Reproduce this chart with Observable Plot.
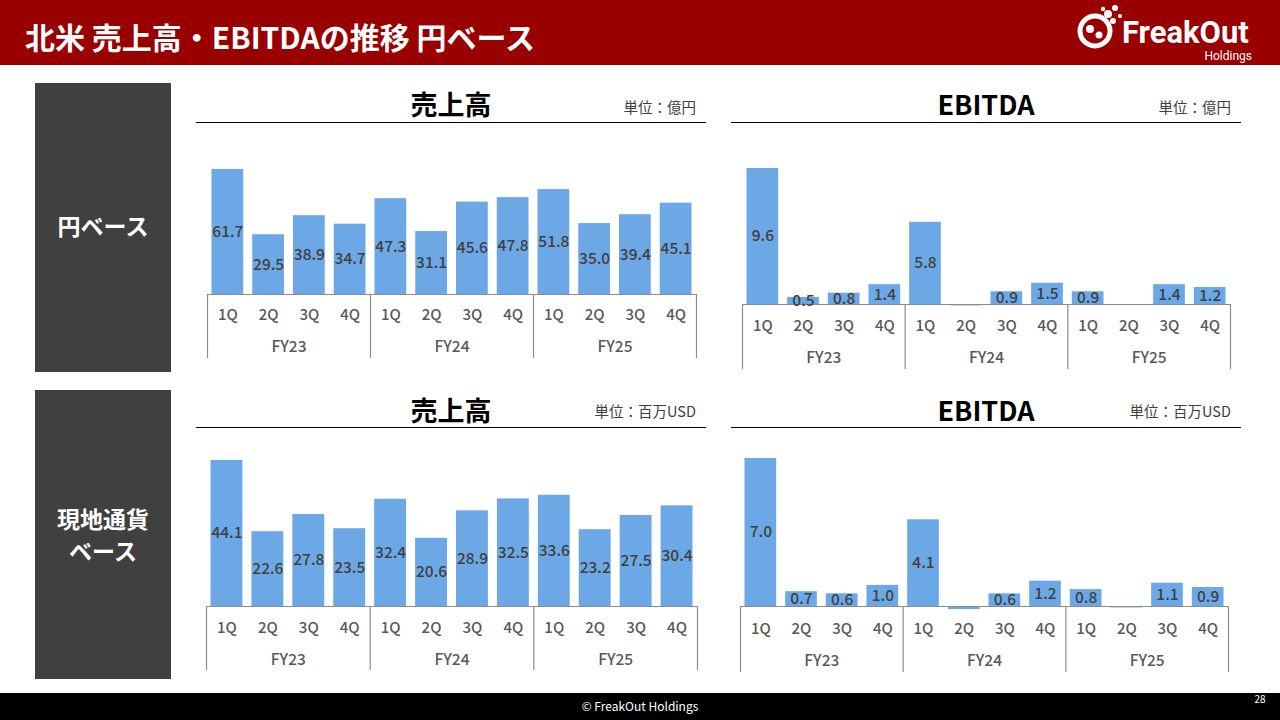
<!DOCTYPE html>
<html>
<head>
<meta charset="utf-8">
<script src="https://cdn.jsdelivr.net/npm/d3@7"></script>
<script src="https://cdn.jsdelivr.net/npm/@observablehq/plot@0.6"></script>
<style>
  html, body { margin: 0; padding: 0; background: #fff; }
  body { width: 1280px; height: 720px; position: relative; overflow: hidden;
         font-family: "Noto Sans CJK JP", "Noto Sans", sans-serif; }
  .abs { position: absolute; }
  #header { left: 0; top: 0; width: 1280px; height: 65px; background: #990000; }
  #title { left: 25px; top: 15px; color: #fff; font-size: 30px; font-weight: 700; line-height: 42px; white-space: nowrap; }
  .side { background: #404040; }
  .sidetext { color: #fff; font-weight: 700; font-size: 23px; text-align: center; line-height: 32px; white-space: nowrap; }
  .ctitle { font-size: 27px; font-weight: 700; color: #000; text-align: center; line-height: 32px; }
  .unit { font-size: 14.5px; color: #404040; text-align: right; line-height: 18px; white-space: nowrap; }
  .rule { height: 0; border-top: 1.3px solid #000; }
  #footer { left: 0; top: 693px; width: 1280px; height: 27px; background: #000; }
  #copy { left: 0; width: 1280px; top: 697px; text-align: center; color: #fff; font-size: 12px; line-height: 18px; }
  #page { left: 1250px; top: 692px; width: 20px; text-align: center; color: #fff; font-size: 10px; line-height: 14px; }
</style>
</head>
<body>
<div id="header" class="abs"></div>
<div id="title" class="abs">北米 売上高・EBITDAの推移 円ベース</div>
<svg class="abs" style="left:1068px;top:0px" width="200" height="65" viewBox="0 0 200 65">
  <g fill="#fff">
    <circle cx="27" cy="31" r="15" fill="none" stroke="#fff" stroke-width="5"/>
    <circle cx="22" cy="29" r="4"/>
    <circle cx="31" cy="35" r="3.5"/>
    <circle cx="40" cy="14" r="4"/>
    <circle cx="47" cy="8" r="3"/>
    <circle cx="45" cy="21" r="3"/>
    <circle cx="35" cy="9" r="2.2"/>
    <circle cx="52" cy="16" r="2"/>
  </g>
  <text x="54" y="43" fill="#fff" font-size="31" font-weight="700" font-family="Roboto, 'Noto Sans', sans-serif">FreakOut</text>
  <text x="184" y="60" fill="#fff" font-size="12" text-anchor="end" font-family="Roboto, 'Noto Sans', sans-serif">Holdings</text>
</svg>

<div class="abs side" style="left:35px;top:83px;width:136px;height:289px;"></div>
<div class="abs sidetext" style="left:35px;top:209px;width:136px;">円ベース</div>
<div class="abs side" style="left:35px;top:390px;width:136px;height:289px;"></div>
<div class="abs sidetext" style="left:35px;top:502px;width:136px;">現地通貨</div>
<div class="abs sidetext" style="left:35px;top:534px;width:136px;">ベース</div>

<div class="abs ctitle" style="left:196px;top:88px;width:510px;">売上高</div>
<div class="abs unit" style="left:496px;top:98px;width:200px;">単位：億円</div>
<div class="abs rule" style="left:196px;top:122px;width:510px;"></div>

<div class="abs ctitle" style="left:731px;top:88px;width:510px;">EBITDA</div>
<div class="abs unit" style="left:1031px;top:98px;width:200px;">単位：億円</div>
<div class="abs rule" style="left:731px;top:122px;width:510px;"></div>

<div class="abs ctitle" style="left:196px;top:394px;width:510px;">売上高</div>
<div class="abs unit" style="left:496px;top:402px;width:200px;">単位：百万USD</div>
<div class="abs rule" style="left:196px;top:427px;width:510px;"></div>

<div class="abs ctitle" style="left:731px;top:394px;width:510px;">EBITDA</div>
<div class="abs unit" style="left:1031px;top:402px;width:200px;">単位：百万USD</div>
<div class="abs rule" style="left:731px;top:427px;width:510px;"></div>

<div id="footer" class="abs"></div>
<div id="copy" class="abs">© FreakOut Holdings</div>
<div id="page" class="abs">28</div>

<script>
const quarters = ["1Q", "2Q", "3Q", "4Q"];
const fiscalYears = ["FY23", "FY24", "FY25"];
const salesJPY  = [61.7, 29.5, 38.9, 34.7, 47.3, 31.1, 45.6, 47.8, 51.8, 35.0, 39.4, 45.1];
const ebitdaJPY = [9.6, 0.5, 0.8, 1.4, 5.8, -0.1, 0.9, 1.5, 0.9, -0.07, 1.4, 1.2];
const salesUSD  = [44.1, 22.6, 27.8, 23.5, 32.4, 20.6, 28.9, 32.5, 33.6, 23.2, 27.5, 30.4];
const ebitdaUSD = [7.0, 0.7, 0.6, 1.0, 4.1, -0.15, 0.6, 1.2, 0.8, -0.07, 1.1, 0.9];

const FONT = "'Noto Sans CJK JP', 'Noto Sans', sans-serif";

function makeChart(values, box) {
  const data = values.map((v, i) => ({
    i, v, q: quarters[i % 4], fy: fiscalYears[Math.floor(i / 4)]
  }));
  const groups = fiscalYears.map((fy, g) => ({ fy, center: g * 4 + 1.5 }));
  const seps = d3.range(fiscalYears.length + 1).map(g => g * 4 - 0.5);
  const mL = 10, mR = 10, mT = 10, mB = 80;
  const width = (box.right - box.left) + mL + mR;
  const height = (box.baseline - box.top) + mT + mB;
  const yMax = d3.max(values);
  const axisColor = "#8c8c8c";
  const plot = Plot.plot({
    width, height,
    marginLeft: mL, marginRight: mR, marginTop: mT, marginBottom: mB,
    x: { type: "linear", domain: [-0.5, quarters.length * fiscalYears.length - 0.5], axis: null },
    y: { type: "linear", domain: [0, yMax], axis: null },
    style: { background: "transparent", fontFamily: FONT, overflow: "visible" },
    marks: [
      Plot.rectY(data, { x1: d => d.i - 0.39, x2: d => d.i + 0.39, y1: () => 0, y2: "v", fill: "#6ca8e6" }),
      Plot.ruleY([0], { stroke: axisColor, strokeWidth: 1.2 }),
      Plot.ruleX(seps, { x: d => d, y1: () => 0, y2: () => 0, insetBottom: -box.sepLen, stroke: axisColor, strokeWidth: 1.2 }),
      Plot.text(data.filter(d => d.v > 0), {
        x: "i", y: d => d.v / 2, text: d => d.v.toFixed(1),
        fill: "#404040", fontSize: 15.5, fontWeight: 500
      }),
      Plot.text(data, { x: "i", y: () => 0, text: "q", dy: box.qdy, fill: "#595959", fontSize: 15, fontWeight: 500 }),
      Plot.text(groups, { x: "center", y: () => 0, text: "fy", dy: box.fdy, fill: "#595959", fontSize: 15.5, fontWeight: 500 })
    ]
  });
  plot.style.position = "absolute";
  plot.style.left = (box.left - mL) + "px";
  plot.style.top = (box.top - mT) + "px";
  document.body.appendChild(plot);
}

makeChart(salesJPY,  { left: 207, right: 696,  top: 169, baseline: 294, sepLen: 64, qdy: 21, fdy: 53 });
makeChart(ebitdaJPY, { left: 742, right: 1230, top: 168, baseline: 304, sepLen: 65, qdy: 22, fdy: 54 });
makeChart(salesUSD,  { left: 206, right: 697,  top: 460, baseline: 606, sepLen: 64, qdy: 22, fdy: 54 });
makeChart(ebitdaUSD, { left: 740, right: 1228, top: 458, baseline: 606, sepLen: 66, qdy: 23, fdy: 55 });
</script>
</body>
</html>
